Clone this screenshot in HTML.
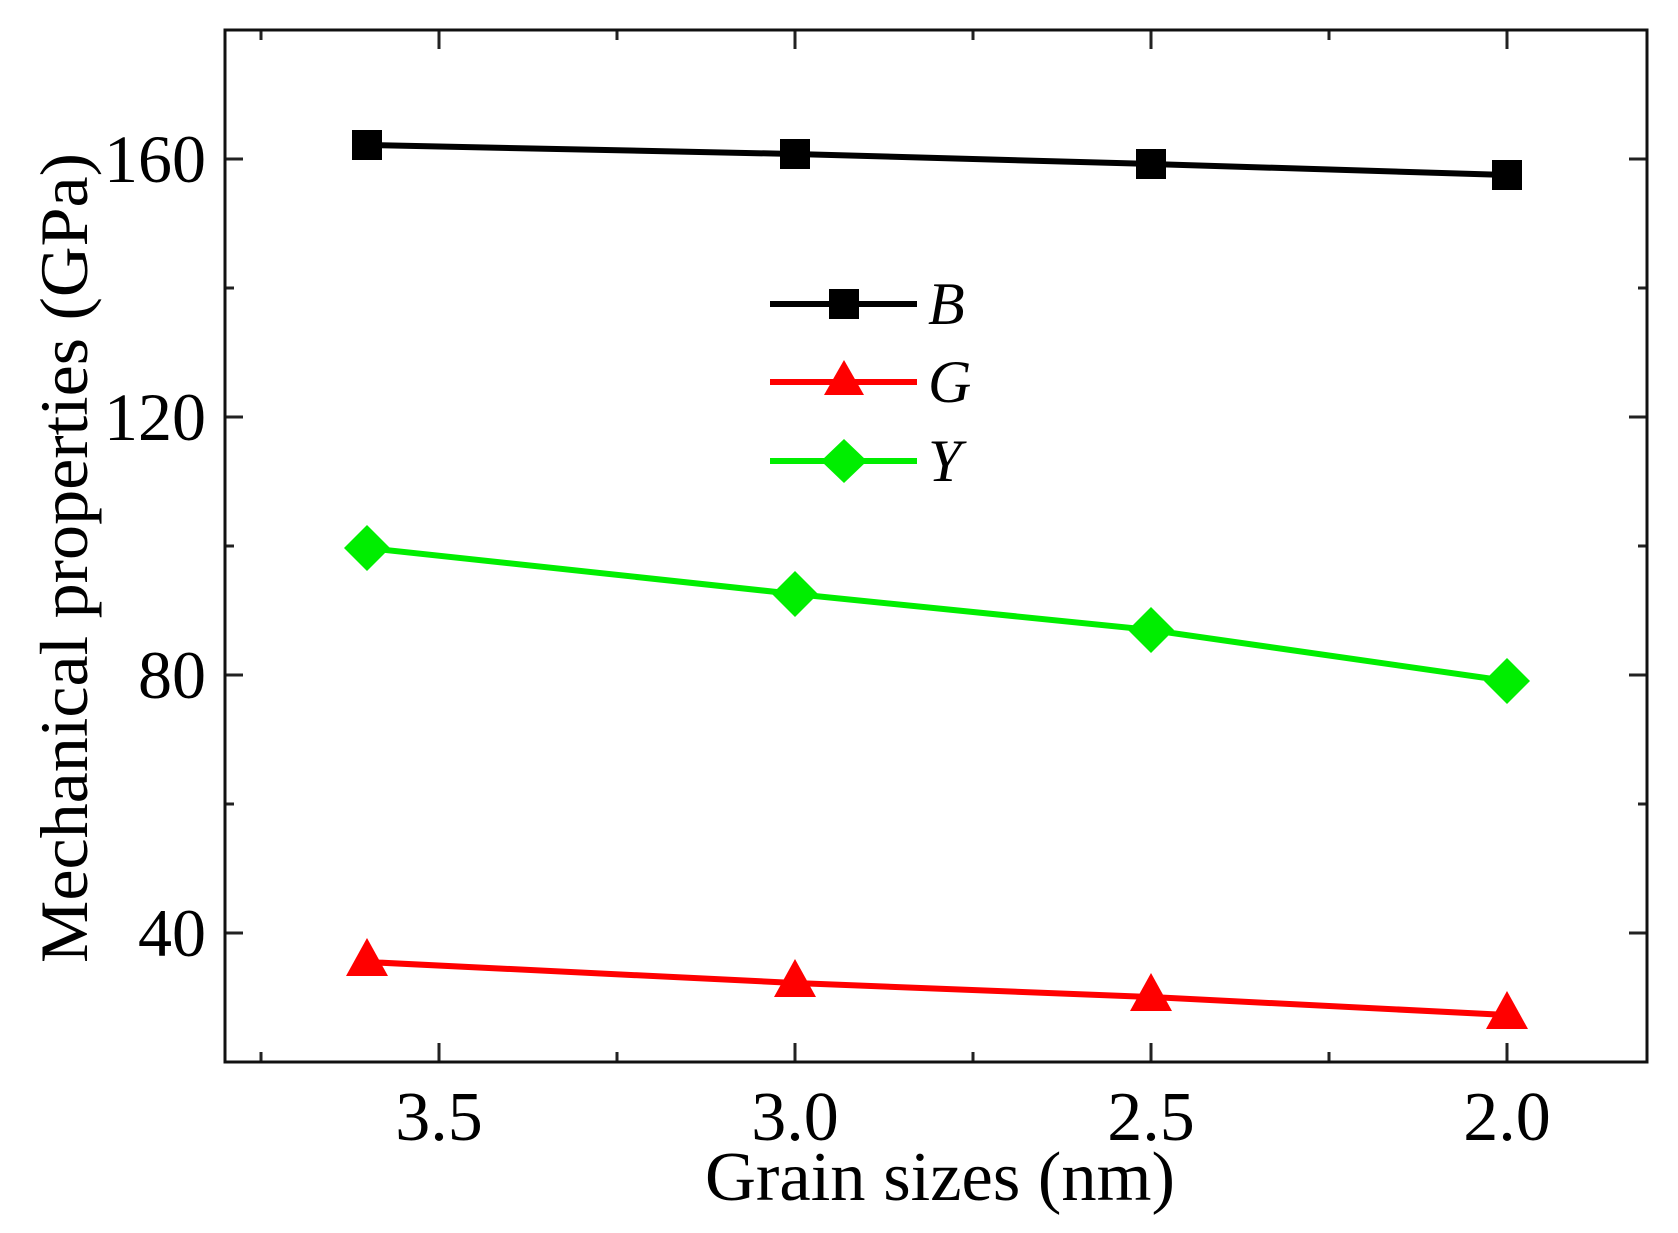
<!DOCTYPE html>
<html><head><meta charset="utf-8"><style>html,body{margin:0;padding:0;background:#fff}svg{display:block}</style></head>
<body>
<svg width="1678" height="1233" viewBox="0 0 1678 1233" xmlns="http://www.w3.org/2000/svg" font-family="'Liberation Serif', serif">
<rect x="0" y="0" width="1678" height="1233" fill="#fff"/>
<g stroke="#222" stroke-width="3">
<line x1="439" y1="1062" x2="439" y2="1043"/><line x1="795" y1="1062" x2="795" y2="1043"/><line x1="1151" y1="1062" x2="1151" y2="1043"/><line x1="1507" y1="1062" x2="1507" y2="1043"/>
<line x1="261" y1="1062" x2="261" y2="1052"/><line x1="617" y1="1062" x2="617" y2="1052"/><line x1="973" y1="1062" x2="973" y2="1052"/><line x1="1329" y1="1062" x2="1329" y2="1052"/>
<line x1="439" y1="30" x2="439" y2="49"/><line x1="795" y1="30" x2="795" y2="49"/><line x1="1151" y1="30" x2="1151" y2="49"/><line x1="1507" y1="30" x2="1507" y2="49"/>
<line x1="261" y1="30" x2="261" y2="40"/><line x1="617" y1="30" x2="617" y2="40"/><line x1="973" y1="30" x2="973" y2="40"/><line x1="1329" y1="30" x2="1329" y2="40"/>
<line x1="225" y1="159" x2="243" y2="159"/><line x1="225" y1="417" x2="243" y2="417"/><line x1="225" y1="675" x2="243" y2="675"/><line x1="225" y1="933" x2="243" y2="933"/>
<line x1="225" y1="288" x2="234" y2="288"/><line x1="225" y1="546" x2="234" y2="546"/><line x1="225" y1="804" x2="234" y2="804"/>
<line x1="1647" y1="159" x2="1629" y2="159"/><line x1="1647" y1="417" x2="1629" y2="417"/><line x1="1647" y1="675" x2="1629" y2="675"/><line x1="1647" y1="933" x2="1629" y2="933"/>
<line x1="1647" y1="288" x2="1638" y2="288"/><line x1="1647" y1="546" x2="1638" y2="546"/><line x1="1647" y1="804" x2="1638" y2="804"/>
</g>
<rect x="225" y="30" width="1422" height="1032" fill="none" stroke="#111" stroke-width="3"/>
<polyline points="367,145 795,154 1151,164 1507,175" fill="none" stroke="#000" stroke-width="6"/>
<g fill="#000"><rect x="352" y="130" width="30" height="30"/><rect x="780" y="139" width="30" height="30"/><rect x="1136" y="149" width="30" height="30"/><rect x="1492" y="160" width="30" height="30"/></g>
<polyline points="367,548 795,594 1151,630 1507,681" fill="none" stroke="#00ee00" stroke-width="6"/>
<g fill="#00ee00">
<polygon points="367,525 390,548 367,571 344,548"/><polygon points="795,571 818,594 795,617 772,594"/><polygon points="1151,607 1174,630 1151,653 1128,630"/><polygon points="1507,658 1530,681 1507,704 1484,681"/></g>
<polyline points="367,962 795,983 1151,997 1507,1015" fill="none" stroke="#ff0000" stroke-width="6"/>
<g fill="#ff0000">
<polygon points="367,938 388,976 346,976"/><polygon points="795,959 816,997 774,997"/><polygon points="1151,973 1172,1011 1130,1011"/><polygon points="1507,991 1528,1029 1486,1029"/></g>
<line x1="770" y1="304" x2="917" y2="304" stroke="#000" stroke-width="6"/><rect x="829" y="289" width="30" height="30" fill="#000"/>
<line x1="770" y1="382" x2="917" y2="382" stroke="#ff0000" stroke-width="6"/><polygon points="844,360 864,395 824,395" fill="#ff0000"/>
<line x1="770" y1="461" x2="917" y2="461" stroke="#00ee00" stroke-width="6"/><polygon points="844,439 867,461 844,483 821,461" fill="#00ee00"/>
<g font-style="italic" font-size="60" fill="#000">
<text x="928" y="324">B</text><text x="928" y="402">G</text><text x="928" y="481">Y</text></g>
<g font-size="70" fill="#000" text-anchor="middle">
<text x="439" y="1140">3.5</text><text x="795" y="1140">3.0</text><text x="1151" y="1140">2.5</text><text x="1507" y="1140">2.0</text></g>
<g font-size="68" fill="#000" text-anchor="end">
<text x="206" y="182">160</text><text x="206" y="440">120</text><text x="206" y="698">80</text><text x="206" y="956">40</text></g>
<text x="940" y="1200" font-size="70" text-anchor="middle" textLength="470" lengthAdjust="spacingAndGlyphs">Grain sizes (nm)</text>
<text transform="translate(87,558) rotate(-90)" font-size="68" text-anchor="middle" textLength="810" lengthAdjust="spacingAndGlyphs">Mechanical properties (GPa)</text>
</svg>
</body></html>
